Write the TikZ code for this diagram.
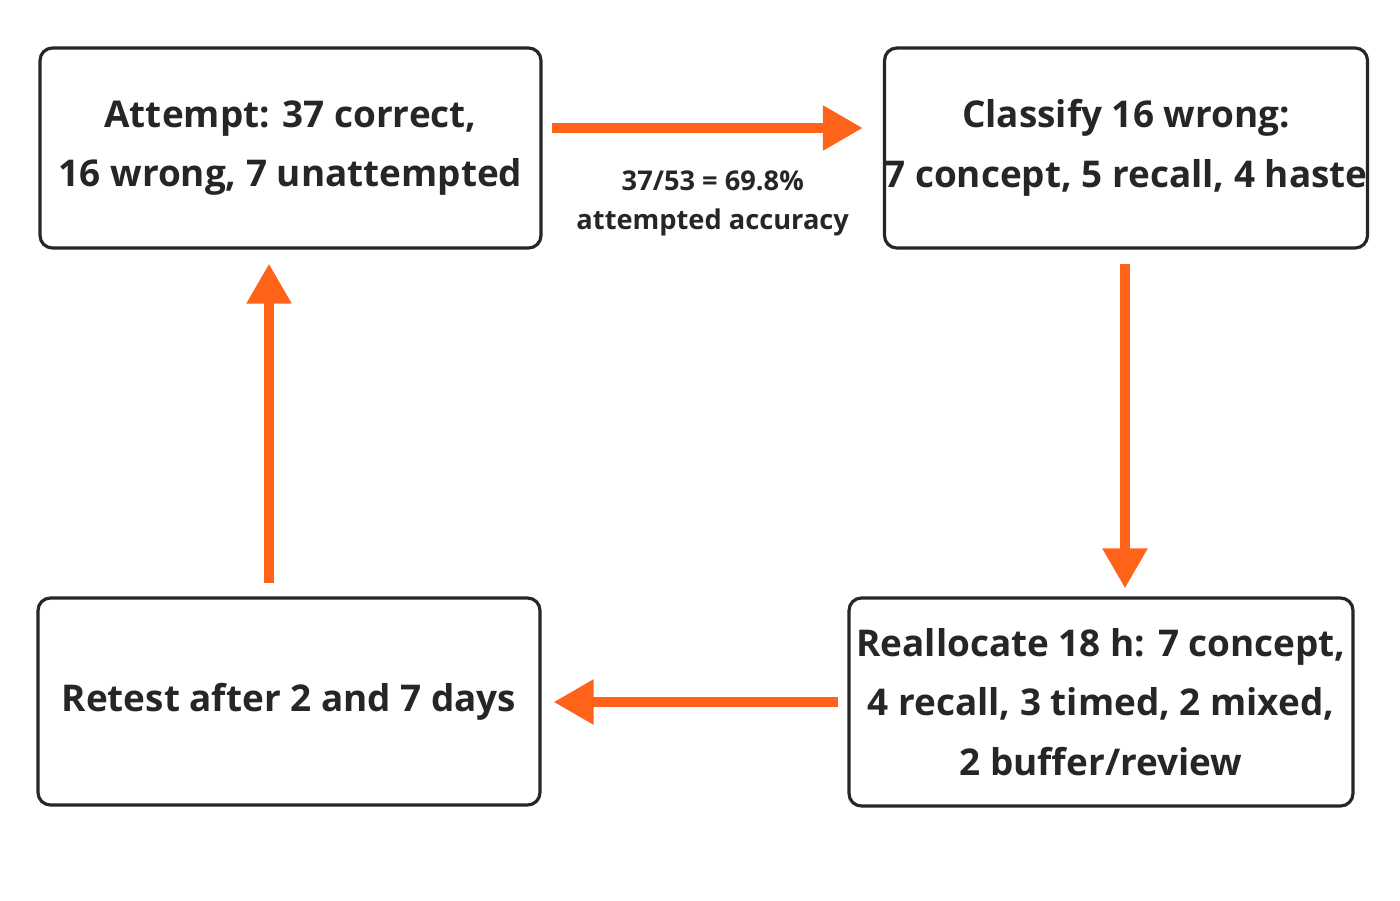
\documentclass[tikz,border=0pt]{standalone}
\usepackage{fontspec}
\setmainfont{Open Sans}
\usetikzlibrary{positioning,arrows.meta,calc}
\definecolor{flow}{HTML}{FF6319}
\tikzset{
  stage/.style={draw=black!85,line width=1.8pt,rounded corners=7pt,align=center,
    font=\fontsize{21}{34}\selectfont\bfseries,text=black!85,inner sep=0pt},
  link/.style={flow,line width=5.6pt,-{Triangle[length=0.8cm,width=0.85cm]}},
}
\begin{document}
\begin{tikzpicture}[x=0.02cm,y=-0.02cm]
      \useasboundingbox (0,0) rectangle (1400,900);
      \node[stage,minimum width=10.02cm,minimum height=4cm] (attempt) at (290.5,148)
        {Attempt: 37 correct,\\16 wrong, 7 unattempted};
      \node[stage,minimum width=9.36cm,minimum height=4cm] (classify) at (1126,148)
        {Classify 16 wrong:\\7 concept, 5 recall, 4 haste};
      \node[stage,minimum width=10.08cm,minimum height=4.16cm] (realloc) at (1101,702)
        {Reallocate 18 h: 7 concept,\\4 recall, 3 timed, 2 mixed,\\2 buffer/review};
      \node[stage,minimum width=10.04cm,minimum height=4.14cm] (retest) at (289,701.5)
        {Retest after 2 and 7 days};

      \draw[link,shorten <=0.18cm,shorten >=0.4cm]
        ([yshift=0.4cm]attempt.east) -- ([yshift=0.4cm]attempt.east -| classify.west)
        node[midway,below=0.65cm,black!85,align=center,
          font=\fontsize{15.5}{22}\selectfont\bfseries] (acc)
        {37/53 = 69.8\%\\attempted accuracy};
      \draw[link,shorten <=0.28cm,shorten >=0.16cm]
        ([xshift=-0.02cm]classify.south) -- ([xshift=-0.02cm]classify.south |- realloc.north);
      \draw[link,shorten <=0.18cm,shorten >=0.24cm]
        (realloc.west) -- (realloc.west -| retest.east);
      \draw[link,shorten <=0.26cm,shorten >=0.28cm]
        ([xshift=-0.4cm]retest.north) -- ([xshift=-0.4cm]retest.north |- attempt.south);
\end{tikzpicture}
\end{document}
